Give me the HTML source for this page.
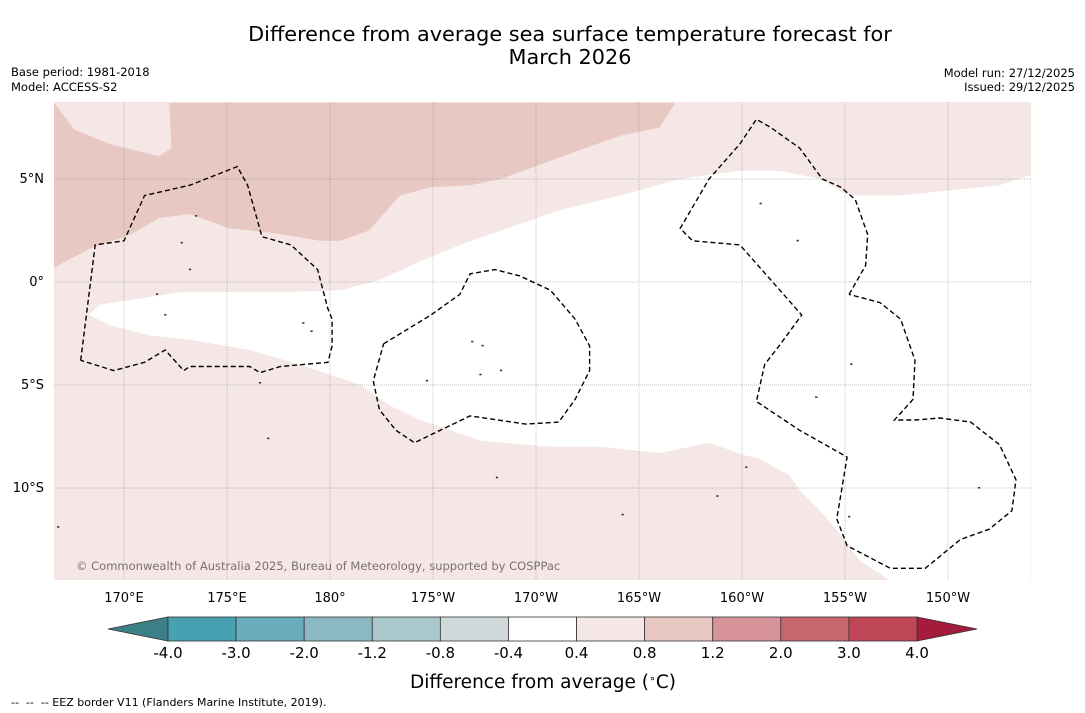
<!DOCTYPE html>
<html><head><meta charset="utf-8"><style>
body{margin:0;background:#fff;font-family:"DejaVu Sans","Liberation Sans",sans-serif;}
svg{display:block}
</style></head><body>
<svg id="c" width="1085" height="713" xmlns="http://www.w3.org/2000/svg">
<text x="570" y="41" text-anchor="middle" font-size="20.8">Difference from average sea surface temperature forecast for</text>
<text x="570" y="64" text-anchor="middle" font-size="20.8">March 2026</text>
<text x="11" y="76" font-size="11.5">Base period: 1981-2018</text>
<text x="11" y="91" font-size="11.5">Model: ACCESS-S2</text>
<text x="1075" y="77" text-anchor="end" font-size="11.5">Model run: 27/12/2025</text>
<text x="1075" y="91" text-anchor="end" font-size="11.5">Issued: 29/12/2025</text>
<g id="map"></g>
<g id="cb"></g>
<text x="543" y="688" text-anchor="middle" font-size="18.5">Difference from average (<tspan font-size="11" dy="-6">∘</tspan><tspan dy="6">C)</tspan></text>
<text x="11" y="706" font-size="11" xml:space="preserve">--  --  -- EEZ border V11 (Flanders Marine Institute, 2019).</text>
</svg>
<script>
const lonTicks=[170,175,180,185,190,195,200,205,210];
const lonLabels=["170°E","175°E","180°","175°W","170°W","165°W","160°W","155°W","150°W"];
const latTicks=[5,0,-5,-10];
const latLabels=["5°N","0°","5°S","10°S"];
const cbBounds=[-4.0,-3.0,-2.0,-1.2,-0.8,-0.4,0.4,0.8,1.2,2.0,3.0,4.0];
const cbColors=["#48a1b1","#6aacba","#8cb8c4","#aac8cc","#d0d9d9","#ffffff","#f5e7e5","#e8c8c3","#d6939a","#c8666f","#bf4657"];
const extLow="#3b8087", extHigh="#a51b3b";
const darkRegion=[[166.6,0.7],[168.3,1.6],[170.3,2.3],[171.7,3.1],[173.2,3.3],[175.1,2.6],[177.1,2.4],[179.5,2.0],[180.5,2.0],[181.9,2.5],[183.4,4.2],[184.9,4.6],[186.8,4.7],[188.3,5.0],[190.2,5.7],[192.1,6.4],[194.1,7.1],[196.0,7.5],[196.7,8.6],[196.7,8.7],[166.6,8.7]];
const lightPatch=[[166.6,8.7],[167.6,7.4],[169.3,6.7],[171.7,6.1],[172.3,6.5],[172.2,8.7]];
const whiteRegion=[[168.3,-1.6],[168.8,-1.1],[170.8,-0.8],[172.7,-0.5],[177.6,-0.5],[180.5,-0.4],[182.4,0.1],[184.4,1.0],[186.3,1.8],[188.3,2.5],[191.2,3.5],[194.1,4.2],[197.0,5.0],[199.9,5.4],[201.8,5.4],[203.8,5.0],[205.2,4.2],[207.7,4.2],[210.6,4.5],[212.5,4.7],[214.0,5.2],[214.0,-14.5],[207.2,-14.5],[205.7,-13.5],[204.8,-12.3],[203.8,-11.1],[202.8,-10.1],[202.3,-9.4],[200.9,-8.6],[200.1,-8.4],[198.4,-7.8],[196.0,-8.3],[193.1,-8.0],[190.7,-8.0],[187.3,-7.7],[184.4,-6.7],[182.9,-6.0],[181.5,-5.0],[178.5,-4.0],[176.1,-3.3],[173.2,-2.8],[171.3,-2.6],[169.3,-2.1]];
const eezWest=[[167.9,-3.8],[168.6,1.8],[170.0,2.0],[171.0,4.2],[173.2,4.7],[175.5,5.6],[176.0,4.7],[176.7,2.2],[178.1,1.8],[179.4,0.6],[179.9,-1.3],[180.1,-1.8],[180.1,-3.1],[179.9,-3.9],[177.6,-4.1],[176.6,-4.4],[176.1,-4.1],[173.2,-4.1],[172.9,-4.3],[172.0,-3.3],[171.0,-3.9],[169.5,-4.3],[167.9,-3.8]];
const eezMid=[[182.6,-3.0],[184.9,-1.6],[186.3,-0.6],[186.8,0.4],[188.0,0.6],[189.2,0.3],[190.7,-0.4],[191.9,-1.8],[192.6,-3.1],[192.6,-4.3],[191.9,-5.7],[191.1,-6.8],[189.5,-6.9],[186.8,-6.5],[184.1,-7.8],[183.2,-7.2],[182.4,-6.2],[182.1,-4.8],[182.6,-3.0]];
const eezEast=[[205.2,-0.6],[206.0,0.8],[206.1,2.3],[205.5,4.0],[204.8,4.6],[203.9,5.0],[202.8,6.5],[201.4,7.5],[200.7,7.9],[199.9,6.7],[198.4,5.0],[197.0,2.6],[197.6,2.0],[199.9,1.8],[201.4,0.1],[202.9,-1.6],[201.8,-3.1],[201.1,-4.0],[200.7,-5.8],[202.8,-7.2],[205.1,-8.5],[204.6,-11.5],[205.1,-12.8],[207.2,-13.9],[208.9,-13.9],[210.6,-12.5],[212.0,-12.0],[213.1,-11.1],[213.3,-9.6],[212.5,-7.9],[211.1,-6.8],[209.6,-6.6],[208.4,-6.7],[207.4,-6.7],[208.3,-5.7],[208.4,-3.8],[207.7,-1.8],[206.7,-1.0],[205.2,-0.6]];
const islands=[[171.6,-0.6],[172.0,-1.6],[178.7,-2.0],[179.1,-2.4],[187.3,-4.5],[188.3,-4.3],[186.9,-2.9],[187.4,-3.1],[184.7,-4.8],[202.7,2.0],[200.9,3.8],[205.3,-4.0],[211.5,-10.0],[198.8,-10.4],[166.8,-11.9],[173.5,3.2],[172.8,1.9],[173.2,0.6],[176.6,-4.9],[194.2,-11.3],[177.0,-7.6],[203.6,-5.6],[205.2,-11.4],[200.2,-9.0],[188.1,-9.5]];
const NS="http://www.w3.org/2000/svg";
const X0=54,X1=1031,Y0=102,Y1=580;
const px=lon=>124+(lon-170)*20.6;
const py=lat=>282-lat*20.6;
function mk(p,t,a){const e=document.createElementNS(NS,t);for(const k in a)e.setAttribute(k,a[k]);p.appendChild(e);return e;}
const map=document.getElementById('map');
const defs=mk(map,'defs',{});const cp=mk(defs,'clipPath',{id:'clip'});mk(cp,'rect',{x:X0,y:Y0,width:X1-X0,height:Y1-Y0});
const g=mk(map,'g',{'clip-path':'url(#clip)'});
const pts=a=>a.map(p=>px(p[0]).toFixed(1)+','+py(p[1]).toFixed(1)).join(' ');
let r=mk(g,'rect',{x:X0,y:Y0,width:X1-X0,height:Y1-Y0,fill:cbColors[6]});

let e=mk(g,'polygon',{points:pts(darkRegion),fill:cbColors[7]});

e=mk(g,'polygon',{points:pts(lightPatch),fill:cbColors[6]});

e=mk(g,'polygon',{points:pts(whiteRegion),fill:cbColors[5]});

islands.forEach(p=>{const d=mk(g,'rect',{x:px(p[0])-1,y:py(p[1])-1,width:2.2,height:1.6,fill:'#333'});
});
lonTicks.forEach((l,i)=>{const ln=mk(g,'line',{x1:px(l),x2:px(l),y1:Y0,y2:Y1,stroke:'#888','stroke-width':0.5,'stroke-dasharray':'1,1'});

const t=mk(map,'text',{x:px(l),y:602,'text-anchor':'middle','font-size':13});t.textContent=lonLabels[i];
});
latTicks.forEach((l,i)=>{const ln=mk(g,'line',{x1:X0,x2:X1,y1:py(l),y2:py(l),stroke:'#888','stroke-width':0.5,'stroke-dasharray':'1,1'});

const t=mk(map,'text',{x:44,y:py(l)+4,'text-anchor':'end','font-size':13});t.textContent=latLabels[i];
});
[eezWest,eezMid,eezEast].forEach(a=>{const pl=mk(g,'polyline',{points:pts(a),fill:'none',stroke:'#000','stroke-width':1.4,'stroke-dasharray':'5,3'});
});
const cr=mk(map,'text',{x:76,y:570,'font-size':11.5,fill:'#7a7070'});cr.textContent='© Commonwealth of Australia 2025, Bureau of Meteorology, supported by COSPPac';

const cb=document.getElementById('cb');
const CX0=168,CX1=917,CY=617,CH=24;const n=cbColors.length;const w=(CX1-CX0)/n;
let t0=mk(cb,'polygon',{points:`${CX0},${CY} ${CX0},${CY+CH} 108,${CY+CH/2}`,fill:extLow,stroke:'#333','stroke-width':0.8});

let t1=mk(cb,'polygon',{points:`${CX1},${CY} ${CX1},${CY+CH} 977,${CY+CH/2}`,fill:extHigh,stroke:'#333','stroke-width':0.8});

cbColors.forEach((c,i)=>{const s=mk(cb,'rect',{x:CX0+i*w,y:CY,width:w,height:CH,fill:c,stroke:'#333','stroke-width':0.8});
});
cbBounds.forEach((b,i)=>{const t=mk(cb,'text',{x:CX0+i*w,y:658,'text-anchor':'middle','font-size':15});t.textContent=b.toFixed(1);
});
</script>
</body></html>
